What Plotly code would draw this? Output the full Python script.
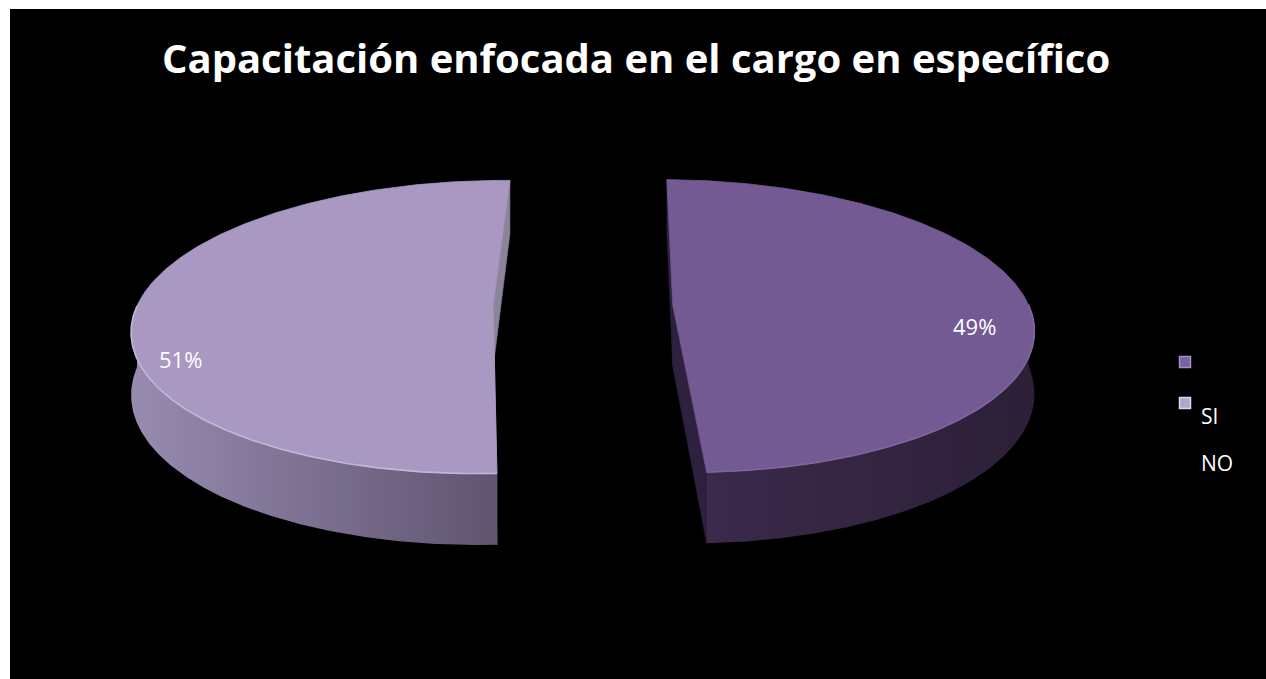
import numpy as np
import plotly.graph_objects as go

# ---- data ----
categories = ["SI", "NO"]
values = [49, 51]
percent_labels = ["49%", "51%"]

# ---- styling ----
top_colors = ["#745a93", "#a998c1"]
wall_gradients = [
    [[0, "#3b2a4b"], [1, "#2c1f37"]],
    [[0, "#978bb0"], [1, "#5f5570"]],
]
cut_colors = ["#2e2140", "#8c849a"]
rim_colors = ["#7f66a0", "#c2b8d6"]
legend_colors = [("#7b60a2", "#a790c8"), ("#b2a5cc", "#ddd5ea")]

W, H = 1266, 679
FONT = "Open Sans"

# pie geometry: plane coordinates projected with a homography (perspective)
cx, cy = 583.0, 305.4
R = 356.0          # pie radius in plane units
explode = 89.8     # slice offset along its bisector
q = 0.144 / R      # perspective strength
ky = 0.403         # vertical squash of the tilted plane
depth = 61.0       # wall height at mid depth
first_angle = 1.0  # degrees, clockwise from 12 o'clock


def project(u, v, z=0.0):
    w = 1.0 - q * v
    return cx + u / w, cy + (ky * v + z) / w


def arc_pts(a0, a1, n=240):
    th = np.radians(np.linspace(a0, a1, n))
    return np.sin(th), -np.cos(th)


fig = go.Figure()

total = float(sum(values))
start = first_angle
slices = []
for i, val in enumerate(values):
    span = 360.0 * val / total
    end = start + span
    mid = np.radians(start + span / 2)
    ou, ov = explode * np.sin(mid), -explode * np.cos(mid)

    # radial cut faces
    for ang in (start, end):
        su, sv = np.sin(np.radians(ang)), -np.cos(np.radians(ang))
        pts = [(ou, ov, 0), (ou + R * su, ov + R * sv, 0),
               (ou + R * su, ov + R * sv, depth), (ou, ov, depth)]
        xy = [project(a, b, c) for a, b, c in pts]
        fig.add_trace(go.Scatter(
            x=[p[0] for p in xy] + [xy[0][0]], y=[p[1] for p in xy] + [xy[0][1]],
            mode="lines", fill="toself", fillcolor=cut_colors[i],
            line=dict(width=0.6, color=cut_colors[i]), hoverinfo="skip", showlegend=False))

    # outer wall (the half facing the viewer)
    w0, w1 = max(start, 90.0), min(end, 270.0)
    if w1 > w0:
        su, sv = arc_pts(w0, w1)
        xt, yt = project(ou + R * su, ov + R * sv, 0)
        xb, yb = project(ou + R * su, ov + R * sv, depth)
        fig.add_trace(go.Scatter(
            x=np.concatenate([xt, xb[::-1], xt[:1]]),
            y=np.concatenate([yt, yb[::-1], yt[:1]]),
            mode="lines", fill="toself",
            fillgradient=dict(type="horizontal", colorscale=wall_gradients[i]),
            line=dict(width=0), hoverinfo="skip", showlegend=False))

    # top face
    su, sv = arc_pts(start, end)
    xt, yt = project(ou + R * su, ov + R * sv, 0)
    xc, yc = project(ou, ov, 0)
    fig.add_trace(go.Scatter(
        x=np.concatenate([[xc], xt, [xc]]), y=np.concatenate([[yc], yt, [yc]]),
        mode="lines", fill="toself", fillcolor=top_colors[i],
        line=dict(width=0.8, color=top_colors[i]), hoverinfo="skip", showlegend=False))

    # light rim along the front edge of the top face
    if w1 > w0:
        su, sv = arc_pts(w0, w1)
        xr, yr = project(ou + R * su, ov + R * sv, 0)
        fig.add_trace(go.Scatter(x=xr, y=yr, mode="lines",
                                 line=dict(width=1.6, color=rim_colors[i]),
                                 hoverinfo="skip", showlegend=False))

    slices.append((ou, ov, mid))
    start = end

# percentage labels
label_frac = [0.85, 0.875]
label_dy = [23, 51]
for i, (ou, ov, mid) in enumerate(slices):
    lx, ly = project(ou + label_frac[i] * R * np.sin(mid),
                     ov - label_frac[i] * R * np.cos(mid), 0)
    fig.add_annotation(x=lx, y=ly + label_dy[i], text=percent_labels[i],
                       showarrow=False, font=dict(family=FONT, size=22, color="white"),
                       xanchor="center", yanchor="middle")

# legend (squares and texts sit one row apart)
sq_x, sq_y = 1185, [362, 403]
txt_x, txt_y = 1199, [416, 463]
for i, cat in enumerate(categories):
    fill, edge = legend_colors[i]
    fig.add_trace(go.Scatter(x=[sq_x], y=[sq_y[i]], mode="markers",
                             marker=dict(symbol="square", size=11, color=fill,
                                         line=dict(width=1.5, color=edge)),
                             hoverinfo="skip", showlegend=False))
    fig.add_annotation(x=txt_x, y=txt_y[i], text=cat, showarrow=False,
                       font=dict(family=FONT, size=21, color="white"),
                       xanchor="left", yanchor="middle")

# title
fig.add_annotation(x=636, y=57, text="<b>Capacitación enfocada en el cargo en específico</b>",
                   showarrow=False, font=dict(family=FONT, size=40, color="white"),
                   xanchor="center", yanchor="middle")

fig.update_layout(
    width=W, height=H,
    margin=dict(l=10, t=9, r=0, b=0),
    paper_bgcolor="white", plot_bgcolor="black",
    xaxis=dict(range=[10, W], visible=False, fixedrange=True),
    yaxis=dict(range=[H, 9], visible=False, fixedrange=True),
    showlegend=False,
)

fig.write_html("out.html")
